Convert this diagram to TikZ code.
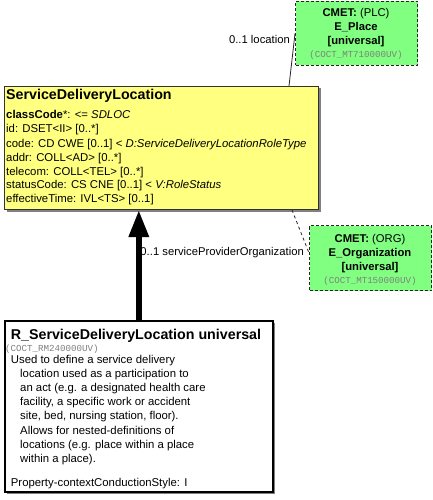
\documentclass[tikz,border=0pt]{standalone}
\usepackage{fontspec}
\setmainfont{Liberation Sans}
\setmonofont{Liberation Mono}
\usetikzlibrary{arrows.meta,calc,shadows}

\definecolor{classyellow}{RGB}{255,255,128}
\definecolor{cmetgreen}{RGB}{128,255,128}

\tikzset{
  boxshadow/.style={drop shadow={shadow xshift=2bp, shadow yshift=-2bp, fill=black!50, opacity=1}},
  classbox/.style={draw=black!80, line width=1bp, fill=classyellow, boxshadow},
  rimbox/.style={draw=black, line width=1.6bp, fill=white, boxshadow},
  cmetbox/.style={draw=black!85, line width=1bp, dash pattern=on 3bp off 2bp, fill=cmetgreen},
  boxtitle/.style={font=\bfseries\fontsize{14.3}{16}\selectfont, inner sep=0pt, anchor=base west},
  attrline/.style={font=\fontsize{11.4}{13.8}\selectfont, inner sep=0pt, anchor=base west},
  idline/.style={font=\ttfamily\fontsize{9.2}{11}\selectfont, text=black!50, inner sep=0pt, anchor=base west},
  cmetline/.style={font=\fontsize{11.3}{13.8}\selectfont, inner sep=0pt, anchor=base},
  assoc/.style={draw=black!85, line width=0.8bp},
}

\begin{document}
\begin{tikzpicture}[x=1bp, y=-1bp]
  \useasboundingbox (0,0) rectangle (432,500);

  % Draw the boxes
  \node[classbox, anchor=north west, minimum width=314bp, minimum height=123bp] (sdl) at (4,86) {};
  \node[rimbox, anchor=north west, minimum width=268bp, minimum height=171bp] (rim) at (4,320) {};
  \node[cmetbox, anchor=north west, minimum width=122bp, minimum height=64bp] (place) at (295,1) {};
  \node[cmetbox, anchor=north west, minimum width=122bp, minimum height=65bp] (org) at (309,225) {};

  % Draw the associations to the CMETs
  \draw[assoc] ($(sdl.north east)+(-30,0)$) -- (place.west);
  \draw[assoc, dashed] ($(sdl.south east)+(-27,0)$) -- ($(org.north west)+(0,28)$);
  \node[attrline, font=\fontsize{11.3}{13.8}\selectfont, anchor=base east] (loclabel) at (290,44) {0..1 location};
  \node[attrline, font=\fontsize{11.3}{13.8}\selectfont, anchor=base east] (orglabel) at (304,255) {0..1 serviceProviderOrganization};

  % Draw the arrow from the entry point up to the class
  \draw[line width=6bp, -{Triangle[length=27bp, width=19bp]}] (rim.north) -- (rim.north |- sdl.south);

  % Class text
  \node[boxtitle] (sdltitle) at (6,100) {ServiceDeliveryLocation};
  \node[attrline] (sdlattra) at (6,119) {\textbf{classCode}*: <= \textit{SDLOC}};
  \node[attrline] (sdlattrb) at (6,133) {id: DSET<II> [0..*]};
  \node[attrline] (sdlattrc) at (6,147.5) {code: CD CWE [0..1] < \textit{D:ServiceDeliveryLocationRoleType}};
  \node[attrline] (sdlattrd) at (6,161.5) {addr: COLL<AD> [0..*]};
  \node[attrline] (sdlattre) at (6,175.5) {telecom: COLL<TEL> [0..*]};
  \node[attrline] (sdlattrf) at (6,189) {statusCode: CS CNE [0..1] < \textit{V:RoleStatus}};
  \node[attrline] (sdlattrg) at (6,202) {effectiveTime: IVL<TS> [0..1]};

  % Entry point text
  \node[boxtitle] (rimtitle) at (10.7,339.5) {R\_ServiceDeliveryLocation universal};
  \node[idline] (rimid) at (5,351) {(COCT\_RM240000UV)};
  \node[attrline] (rimdesca) at (10.7,363.5) {Used to define a service delivery};
  \node[attrline] (rimdescb) at (20,377.6) {location used as a participation to};
  \node[attrline] (rimdescc) at (20,391.7) {an act (e.g. a designated health care};
  \node[attrline] (rimdescd) at (20,405.8) {facility, a specific work or accident};
  \node[attrline] (rimdesce) at (20,419.9) {site, bed, nursing station, floor).};
  \node[attrline] (rimdescf) at (20,434) {Allows for nested-definitions of};
  \node[attrline] (rimdescg) at (20,448.1) {locations (e.g. place within a place};
  \node[attrline] (rimdesch) at (20,462.2) {within a place).};
  \node[attrline] (rimstyle) at (10.7,486) {Property-contextConductionStyle: I};

  % CMET text
  \node[cmetline] (placea) at (356,17) {\textbf{CMET:} (PLC)};
  \node[cmetline] (placeb) at (356,31) {\textbf{E\_Place}};
  \node[cmetline] (placec) at (356,45) {\textbf{[universal]}};
  \node[idline, anchor=base] (placed) at (356,57.5) {(COCT\_MT710000UV)};

  \node[cmetline] (orga) at (370,242) {\textbf{CMET:} (ORG)};
  \node[cmetline] (orgb) at (370,256) {\textbf{E\_Organization}};
  \node[cmetline] (orgc) at (370,270) {\textbf{[universal]}};
  \node[idline, anchor=base] (orgd) at (370,283.5) {(COCT\_MT150000UV)};
\end{tikzpicture}
\end{document}
